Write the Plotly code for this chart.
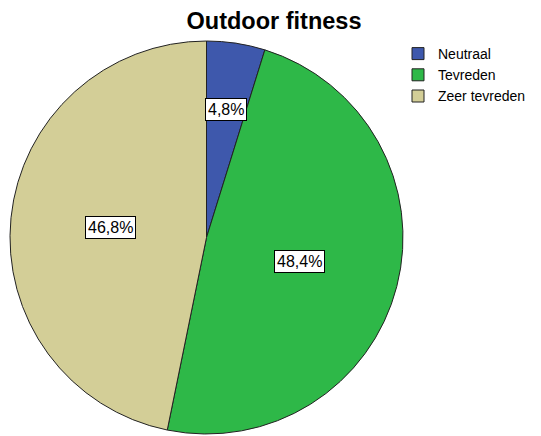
import math
import plotly.graph_objects as go

categories = ["Neutraal", "Tevreden", "Zeer tevreden"]
values = [4.8, 48.4, 46.8]
label_texts = ["4,8%", "48,4%", "46,8%"]
colors = ["#3E58AC", "#2EB848", "#D3CE97"]
label_radius = [0.66, 0.49, 0.49]

W, H = 541, 436
cx0, cx1 = 8, 405
cy0, cy1 = 41, 434  # pixel top/bottom of pie

fig = go.Figure(go.Pie(
    labels=categories, values=values, sort=False, direction="clockwise",
    rotation=0, textinfo="none", hoverinfo="label+percent",
    marker=dict(colors=colors, line=dict(color="#222222", width=1)),
    domain=dict(x=[cx0 / W, cx1 / W], y=[1 - cy1 / H, 1 - cy0 / H]),
))

# label positions from slice angles
cx = (cx0 + cx1) / 2
cy = (cy0 + cy1) / 2
R = min(cx1 - cx0, cy1 - cy0) / 2
total = sum(values)
cum = 0
annotations = []
for v, t, rf in zip(values, label_texts, label_radius):
    mid = (cum + v / 2) / total * 2 * math.pi
    cum += v
    px = cx + rf * R * math.sin(mid)
    py = cy - rf * R * math.cos(mid)
    annotations.append(dict(
        x=px / W, y=1 - py / H, xref="paper", yref="paper", text=t,
        xanchor="center", yanchor="middle",
        showarrow=False, bgcolor="white", bordercolor="black", borderwidth=1,
        borderpad=2, font=dict(family="Liberation Sans, Arial", size=16, color="black"),
    ))

fig.update_layout(
    width=W, height=H, margin=dict(l=0, r=0, t=0, b=0, autoexpand=False),
    paper_bgcolor="white", plot_bgcolor="white",
    title=dict(text="<b>Outdoor fitness</b>", x=274 / W, xanchor="center",
               y=1 - 21 / H, yanchor="middle",
               font=dict(family="Liberation Sans, Arial", size=23.5, color="black")),
    legend=dict(x=398 / W, y=1 - 38 / H, xanchor="left", yanchor="top",
                font=dict(family="Liberation Sans, Arial", size=14, color="black"),
                itemwidth=30, tracegroupgap=0, bgcolor="rgba(0,0,0,0)"),
    annotations=annotations,
)

fig.write_html("out.html", config={"displayModeBar": False},
               post_script="document.body.style.margin='0';document.body.style.padding='0';")
